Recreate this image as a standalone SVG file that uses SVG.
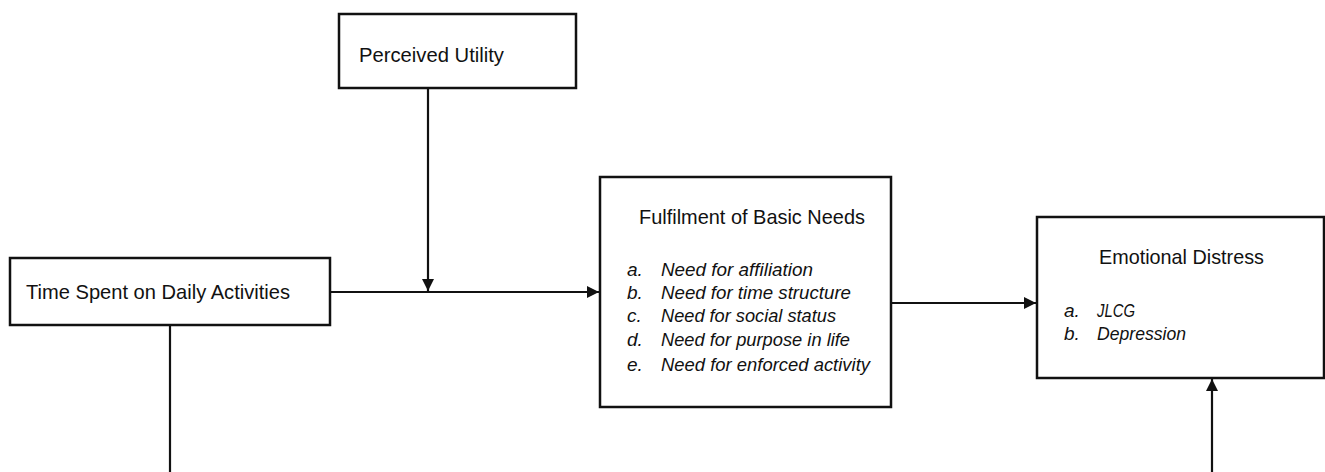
<svg xmlns="http://www.w3.org/2000/svg" width="1325" height="472" viewBox="0 0 1325 472">
<style>
.box{fill:#fff;stroke:#111;stroke-width:2.5}
.t{font-family:"Liberation Sans",Arial,sans-serif;font-size:21px;fill:#111}
.i{font-family:"Liberation Sans",Arial,sans-serif;font-size:19px;font-style:italic;fill:#111}
.c{fill:none;stroke:#111;stroke-width:2.2}
</style>
<defs>
<marker id="ah" markerUnits="userSpaceOnUse" markerWidth="13" markerHeight="13" refX="12" refY="6" orient="auto">
<path d="M0,0 L12,6 L0,12 z" fill="#111"/>
</marker>
</defs>
<g id="connectors">
<line class="c" x1="330" y1="292" x2="599" y2="292" marker-end="url(#ah)"/>
<line class="c" x1="428" y1="88" x2="428" y2="291" marker-end="url(#ah)"/>
<line class="c" x1="891" y1="303" x2="1036" y2="303" marker-end="url(#ah)"/>
<line class="c" x1="170" y1="325" x2="170" y2="472"/>
<line class="c" x1="1212" y1="472" x2="1212" y2="379" marker-end="url(#ah)"/>
</g>
<g id="perceived-utility">
<rect class="box" x="339" y="14" width="237" height="74"/>
<text class="t" x="359" y="62" textLength="145" lengthAdjust="spacingAndGlyphs">Perceived Utility</text>
</g>
<g id="time-spent">
<rect class="box" x="10" y="258" width="320" height="67"/>
<text class="t" x="26" y="299" textLength="264" lengthAdjust="spacingAndGlyphs">Time Spent on Daily Activities</text>
</g>
<g id="basic-needs">
<rect class="box" x="600" y="177" width="291" height="230"/>
<text class="t" x="639" y="224" textLength="226" lengthAdjust="spacingAndGlyphs">Fulfilment of Basic Needs</text>
<text class="i" x="627" y="276">a.</text>
<text class="i" x="661" y="276" textLength="152" lengthAdjust="spacingAndGlyphs">Need for affiliation</text>
<text class="i" x="627" y="299">b.</text>
<text class="i" x="661" y="299" textLength="190" lengthAdjust="spacingAndGlyphs">Need for time structure</text>
<text class="i" x="627" y="322">c.</text>
<text class="i" x="661" y="322" textLength="175" lengthAdjust="spacingAndGlyphs">Need for social status</text>
<text class="i" x="627" y="346">d.</text>
<text class="i" x="661" y="346" textLength="189" lengthAdjust="spacingAndGlyphs">Need for purpose in life</text>
<text class="i" x="627" y="371">e.</text>
<text class="i" x="661" y="371" textLength="209" lengthAdjust="spacingAndGlyphs">Need for enforced activity</text>
</g>
<g id="emotional-distress">
<rect class="box" x="1037" y="217" width="287" height="161"/>
<text class="t" x="1099" y="264" textLength="165" lengthAdjust="spacingAndGlyphs">Emotional Distress</text>
<text class="i" x="1064" y="317">a.</text>
<text class="i" x="1097" y="317" textLength="38" lengthAdjust="spacingAndGlyphs">JLCG</text>
<text class="i" x="1064" y="340">b.</text>
<text class="i" x="1097" y="340" textLength="89" lengthAdjust="spacingAndGlyphs">Depression</text>
</g>
</svg>
